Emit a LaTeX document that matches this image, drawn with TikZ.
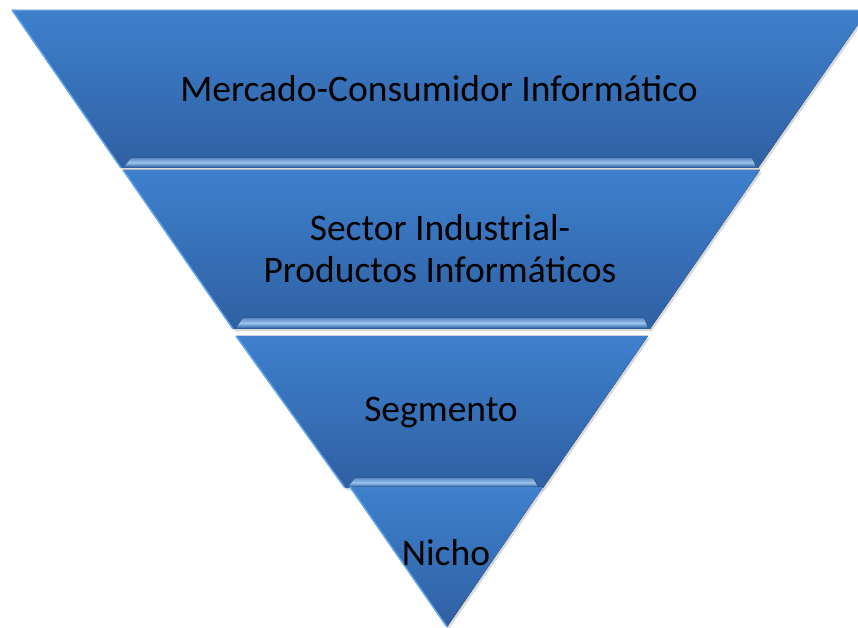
\documentclass[tikz,border=0pt]{standalone}
\usepackage{fontspec}
\setmainfont{Carlito}
\usetikzlibrary{shadows}
\definecolor{laytop}{HTML}{3E80CD}
\definecolor{laybot}{HTML}{2F60A2}
\definecolor{rimblue}{HTML}{62A6EE}
\definecolor{bevblue}{HTML}{9CC6F0}

\begin{document}
\begin{tikzpicture}[x=0.03cm,y=-0.03cm,
  layer/.style={top color=laytop,bottom color=laybot,
    drop shadow={opacity=0.3,shadow xshift=1.5pt,shadow yshift=-2pt}},
  rim/.style={rimblue,line width=1.3pt},
  bevelband/.style={top color=laybot!60!bevblue,bottom color=laybot,middle color=bevblue},
  txt/.style={font=\fontsize{32}{36}\selectfont,align=center,text=black}]
\useasboundingbox (0,0) rectangle (858,628);
\clip (0,0) rectangle (858,628);
% mercado
\fill[layer] (12,10)--(868,10)--(758,168)--(121,168)--cycle;
\fill[bevelband] (124,167)--(131,158)--(752,158)--(756,167)--cycle;
\draw[rim] (121,168)--(12,10);
\draw[rimblue!70!laytop,line width=0.8pt] (12,10)--(868,10);
\node[txt] (mercado) at (439,89) {Mercado-Consumidor Informático};
% sector
\fill[layer] (123,170)--(760,170)--(650,329)--(233,329)--cycle;
\fill[bevelband] (236,328)--(243,318)--(644,318)--(648,328)--cycle;
\draw[rim] (233,329)--(123,170);
\node[txt] (sector) at (440,249) {Sector Industrial-\\Productos Informáticos};
% segmento
\fill[layer] (236,336)--(648,336)--(543,488)--(345,488)--cycle;
\fill[bevelband] (348,487)--(355,478)--(533,478)--(538,487)--cycle;
\draw[rim] (345,488)--(236,336);
\node[txt] (segmento) at (441,413) {Segmento};
% nicho
\fill[layer] (350,487)--(543,487)--(447,627)--cycle;
\draw[rim] (447,627)--(350,487);
\node[txt] (nicho) at (446,553) {Nicho};
\end{tikzpicture}
\end{document}
